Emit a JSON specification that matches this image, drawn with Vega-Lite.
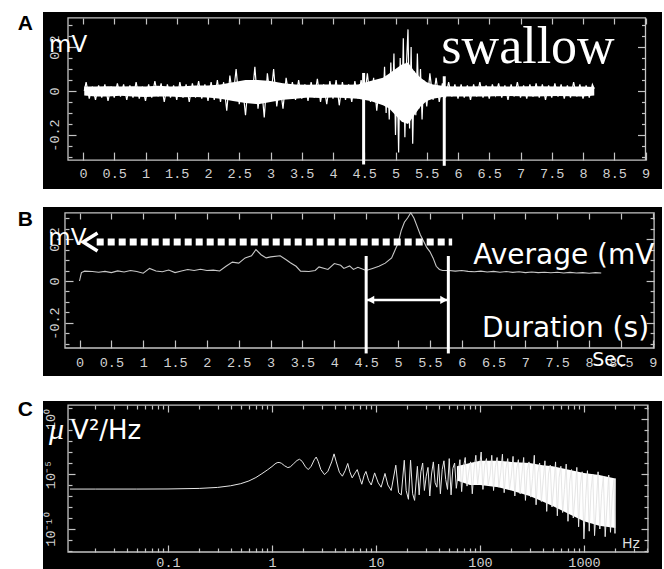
{
  "$schema": "https://vega.github.io/schema/vega-lite/v6.json",
  "background": "white",
  "padding": {"left": 17, "top": 12, "right": 0, "bottom": 0},
  "config": {
    "view": {"stroke": null},
    "axis": {"domain": false, "grid": false, "labelColor": "#d2d2d2", "labelFont": "Liberation Mono", "labelFontSize": 13.5, "tickColor": "#c4c4c4", "tickWidth": 1.2, "labelFlush": false, "labelOverlap": false, "labelBound": false}
  },
  "datasets": {
    "a_sig": [
      {"t":0.02,"v":0.0},{"t":0.05,"v":0.04},{"t":0.1,"v":-0.035},{"t":0.15,"v":0.02},{"t":0.2,"v":-0.04},{"t":0.25,"v":0.025},{"t":0.3,"v":-0.03},{"t":0.35,"v":0.03},{"t":0.4,"v":-0.045},{"t":0.45,"v":0.02},{"t":0.5,"v":-0.03},{"t":0.55,"v":0.035},{"t":0.6,"v":-0.025},{"t":0.65,"v":0.03},{"t":0.7,"v":-0.04},{"t":0.75,"v":0.025},{"t":0.8,"v":-0.03},{"t":0.85,"v":0.04},{"t":0.9,"v":-0.035},{"t":0.95,"v":0.02},{"t":1.0,"v":-0.045},{"t":1.05,"v":0.03},{"t":1.1,"v":-0.03},{"t":1.15,"v":0.045},{"t":1.2,"v":-0.025},{"t":1.25,"v":0.035},{"t":1.3,"v":-0.05},{"t":1.35,"v":0.03},{"t":1.4,"v":-0.03},{"t":1.45,"v":0.025},{"t":1.5,"v":-0.04},{"t":1.55,"v":0.04},{"t":1.6,"v":-0.03},{"t":1.65,"v":0.03},{"t":1.7,"v":-0.05},{"t":1.75,"v":0.035},{"t":1.8,"v":-0.03},{"t":1.85,"v":0.045},{"t":1.9,"v":-0.035},{"t":1.95,"v":0.03},{"t":2.0,"v":-0.045},{"t":2.05,"v":0.04},{"t":2.1,"v":-0.04},{"t":2.15,"v":0.05},
      {"t":2.2,"v":-0.05},{"t":2.25,"v":0.04},{"t":2.3,"v":-0.09},{"t":2.35,"v":0.07},{"t":2.4,"v":-0.03},{"t":2.45,"v":0.1},{"t":2.5,"v":-0.06},{"t":2.55,"v":0.03},{"t":2.6,"v":-0.11},{"t":2.65,"v":0.05},{"t":2.7,"v":-0.05},{"t":2.75,"v":0.11},{"t":2.8,"v":-0.08},{"t":2.85,"v":0.04},{"t":2.9,"v":-0.12},{"t":2.95,"v":0.08},{"t":3.0,"v":-0.04},{"t":3.05,"v":0.1},{"t":3.1,"v":-0.07},{"t":3.15,"v":0.03},{"t":3.2,"v":-0.08},{"t":3.25,"v":0.06},{"t":3.3,"v":-0.03},
      {"t":3.35,"v":0.04},{"t":3.4,"v":-0.04},{"t":3.45,"v":0.05},{"t":3.5,"v":-0.035},{"t":3.55,"v":0.03},{"t":3.6,"v":-0.045},{"t":3.65,"v":0.04},{"t":3.7,"v":-0.03},{"t":3.75,"v":0.055},{"t":3.8,"v":-0.05},{"t":3.85,"v":0.03},{"t":3.9,"v":-0.06},{"t":3.95,"v":0.045},{"t":4.0,"v":-0.035},{"t":4.05,"v":0.05},{"t":4.1,"v":-0.065},{"t":4.15,"v":0.04},{"t":4.2,"v":-0.04},{"t":4.25,"v":0.03},{"t":4.3,"v":-0.05},{"t":4.35,"v":0.045},{"t":4.4,"v":-0.035},
      {"t":4.45,"v":0.05},{"t":4.5,"v":-0.04},{"t":4.55,"v":0.08},{"t":4.6,"v":-0.05},{"t":4.65,"v":0.06},{"t":4.7,"v":-0.09},{"t":4.75,"v":0.05},{"t":4.8,"v":-0.06},{"t":4.825,"v":0.11},{"t":4.85,"v":-0.1},{"t":4.875,"v":0.07},{"t":4.9,"v":-0.13},{"t":4.925,"v":0.13},{"t":4.95,"v":-0.08},{"t":4.975,"v":0.17},{"t":5.0,"v":-0.2},{"t":5.025,"v":0.1},{"t":5.05,"v":-0.28},{"t":5.075,"v":0.15},{"t":5.1,"v":-0.12},{"t":5.125,"v":0.24},{"t":5.15,"v":-0.21},{"t":5.175,"v":0.12},{"t":5.2,"v":0.28},{"t":5.225,"v":-0.17},{"t":5.25,"v":0.2},{"t":5.275,"v":-0.24},{"t":5.3,"v":0.09},{"t":5.325,"v":-0.11},{"t":5.35,"v":0.17},{"t":5.375,"v":-0.08},{"t":5.4,"v":0.1},{"t":5.425,"v":-0.13},{"t":5.45,"v":0.05},{"t":5.5,"v":-0.07},{"t":5.55,"v":0.08},{"t":5.6,"v":-0.04},{"t":5.65,"v":0.06},{"t":5.7,"v":-0.05},
      {"t":5.75,"v":0.035},{"t":5.8,"v":-0.03},{"t":5.85,"v":0.04},{"t":5.9,"v":-0.025},{"t":5.95,"v":0.03},{"t":6.0,"v":-0.035},{"t":6.05,"v":0.03},{"t":6.1,"v":-0.03},{"t":6.15,"v":0.025},{"t":6.2,"v":-0.04},{"t":6.25,"v":0.03},{"t":6.3,"v":-0.025},{"t":6.35,"v":0.04},{"t":6.4,"v":-0.03},{"t":6.45,"v":0.025},{"t":6.5,"v":-0.035},{"t":6.55,"v":0.03},{"t":6.6,"v":-0.02},{"t":6.65,"v":0.035},{"t":6.7,"v":-0.03},{"t":6.75,"v":0.025},{"t":6.8,"v":-0.04},{"t":6.85,"v":0.03},{"t":6.9,"v":-0.025},{"t":6.95,"v":0.04},{"t":7.0,"v":-0.03},{"t":7.05,"v":0.025},{"t":7.1,"v":-0.035},{"t":7.15,"v":0.03},{"t":7.2,"v":-0.025},{"t":7.25,"v":0.035},{"t":7.3,"v":-0.03},{"t":7.35,"v":0.03},{"t":7.4,"v":-0.04},{"t":7.45,"v":0.025},{"t":7.5,"v":-0.03},{"t":7.55,"v":0.035},{"t":7.6,"v":-0.025},{"t":7.65,"v":0.03},{"t":7.7,"v":-0.035},{"t":7.75,"v":0.025},{"t":7.8,"v":-0.03},{"t":7.85,"v":0.04},{"t":7.9,"v":-0.025},{"t":7.95,"v":0.03},{"t":8.0,"v":-0.035},{"t":8.05,"v":0.025},{"t":8.1,"v":-0.03},{"t":8.15,"v":0.03},{"t":8.18,"v":0.01}
    ],
    "a_core": [
      {"t":0.02,"lo":-0.02,"hi":0.02},{"t":0.2,"lo":-0.025,"hi":0.02},{"t":0.4,"lo":-0.025,"hi":0.022},{"t":0.6,"lo":-0.022,"hi":0.02},{"t":0.8,"lo":-0.025,"hi":0.022},{"t":1.0,"lo":-0.027,"hi":0.02},{"t":1.2,"lo":-0.025,"hi":0.024},{"t":1.4,"lo":-0.025,"hi":0.02},{"t":1.6,"lo":-0.028,"hi":0.022},{"t":1.8,"lo":-0.027,"hi":0.025},{"t":2.0,"lo":-0.03,"hi":0.025},{"t":2.2,"lo":-0.035,"hi":0.03},{"t":2.4,"lo":-0.045,"hi":0.04},{"t":2.6,"lo":-0.055,"hi":0.05},{"t":2.8,"lo":-0.06,"hi":0.05},{"t":3.0,"lo":-0.05,"hi":0.045},{"t":3.2,"lo":-0.04,"hi":0.035},{"t":3.4,"lo":-0.035,"hi":0.03},{"t":3.6,"lo":-0.03,"hi":0.028},{"t":3.8,"lo":-0.032,"hi":0.03},{"t":4.0,"lo":-0.03,"hi":0.03},{"t":4.2,"lo":-0.032,"hi":0.028},{"t":4.4,"lo":-0.035,"hi":0.03},{"t":4.6,"lo":-0.045,"hi":0.045},{"t":4.8,"lo":-0.065,"hi":0.06},{"t":4.9,"lo":-0.08,"hi":0.08},{"t":5.0,"lo":-0.11,"hi":0.1},{"t":5.1,"lo":-0.14,"hi":0.12},{"t":5.2,"lo":-0.15,"hi":0.13},{"t":5.3,"lo":-0.11,"hi":0.09},{"t":5.4,"lo":-0.07,"hi":0.06},{"t":5.5,"lo":-0.045,"hi":0.04},{"t":5.6,"lo":-0.035,"hi":0.03},{"t":5.8,"lo":-0.025,"hi":0.022},{"t":6.0,"lo":-0.025,"hi":0.02},{"t":6.4,"lo":-0.025,"hi":0.022},{"t":6.8,"lo":-0.023,"hi":0.02},{"t":7.2,"lo":-0.025,"hi":0.022},{"t":7.6,"lo":-0.023,"hi":0.02},{"t":8.0,"lo":-0.025,"hi":0.02},{"t":8.18,"lo":-0.02,"hi":0.018}
    ],
    "b_sig": [
      {"t":0.0,"v":0.0},{"t":0.03,"v":0.04},{"t":0.08,"v":0.047},{"t":0.2,"v":0.045},{"t":0.3,"v":0.042},{"t":0.4,"v":0.046},{"t":0.5,"v":0.04},{"t":0.6,"v":0.048},{"t":0.7,"v":0.043},{"t":0.8,"v":0.05},{"t":0.9,"v":0.045},{"t":1.0,"v":0.037},{"t":1.1,"v":0.06},{"t":1.2,"v":0.048},{"t":1.3,"v":0.044},{"t":1.4,"v":0.052},{"t":1.5,"v":0.04},{"t":1.6,"v":0.048},{"t":1.7,"v":0.055},{"t":1.8,"v":0.05},{"t":1.9,"v":0.056},{"t":2.0,"v":0.05},{"t":2.1,"v":0.052},{"t":2.2,"v":0.048},{"t":2.3,"v":0.07},{"t":2.4,"v":0.09},{"t":2.5,"v":0.085},{"t":2.6,"v":0.11},{"t":2.7,"v":0.12},{"t":2.77,"v":0.15},{"t":2.85,"v":0.125},{"t":2.93,"v":0.11},{"t":3.0,"v":0.115},{"t":3.15,"v":0.12},{"t":3.25,"v":0.1},{"t":3.31,"v":0.087},{"t":3.4,"v":0.07},{"t":3.47,"v":0.047},{"t":3.6,"v":0.045},{"t":3.7,"v":0.05},{"t":3.76,"v":0.067},{"t":3.9,"v":0.055},{"t":4.0,"v":0.083},{"t":4.1,"v":0.075},{"t":4.15,"v":0.06},{"t":4.24,"v":0.072},{"t":4.3,"v":0.055},{"t":4.37,"v":0.065},{"t":4.5,"v":0.05},{"t":4.6,"v":0.06},{"t":4.7,"v":0.07},{"t":4.8,"v":0.085},{"t":4.9,"v":0.11},{"t":5.0,"v":0.18},{"t":5.05,"v":0.24},{"t":5.1,"v":0.28},{"t":5.15,"v":0.3},{"t":5.2,"v":0.325},{"t":5.25,"v":0.3},{"t":5.3,"v":0.26},{"t":5.35,"v":0.22},{"t":5.4,"v":0.19},{"t":5.45,"v":0.16},{"t":5.5,"v":0.14},{"t":5.55,"v":0.11},{"t":5.6,"v":0.07},{"t":5.65,"v":0.055},{"t":5.7,"v":0.05},{"t":5.8,"v":0.05},{"t":5.9,"v":0.047},{"t":6.0,"v":0.05},{"t":6.1,"v":0.046},{"t":6.2,"v":0.044},{"t":6.3,"v":0.047},{"t":6.4,"v":0.043},{"t":6.5,"v":0.046},{"t":6.6,"v":0.042},{"t":6.7,"v":0.045},{"t":6.8,"v":0.041},{"t":6.9,"v":0.044},{"t":7.0,"v":0.04},{"t":7.1,"v":0.043},{"t":7.2,"v":0.04},{"t":7.3,"v":0.042},{"t":7.4,"v":0.039},{"t":7.5,"v":0.042},{"t":7.6,"v":0.038},{"t":7.7,"v":0.041},{"t":7.8,"v":0.038},{"t":7.9,"v":0.04},{"t":8.0,"v":0.037},{"t":8.1,"v":0.04},{"t":8.19,"v":0.038}
    ],
    "c_psd": [
      {"f":0.0114,"lg":-6.37},{"f":0.02,"lg":-6.37},{"f":0.05,"lg":-6.37},{"f":0.1,"lg":-6.36},{"f":0.2,"lg":-6.31},{"f":0.3,"lg":-6.22},{"f":0.4,"lg":-6.07},{"f":0.5,"lg":-5.88},{"f":0.6,"lg":-5.63},{"f":0.7,"lg":-5.32},{"f":0.8,"lg":-4.97},{"f":0.9,"lg":-4.64},{"f":1.0,"lg":-4.32},{"f":1.07,"lg":-4.08},{"f":1.12,"lg":-3.97},{"f":1.17,"lg":-3.95},{"f":1.23,"lg":-4.02},{"f":1.32,"lg":-4.25},{"f":1.42,"lg":-4.42},{"f":1.5,"lg":-4.35},{"f":1.62,"lg":-4.05},{"f":1.74,"lg":-3.77},{"f":1.84,"lg":-3.66},{"f":1.95,"lg":-3.85},{"f":2.1,"lg":-4.35},{"f":2.23,"lg":-4.6},{"f":2.38,"lg":-4.3},{"f":2.55,"lg":-3.7},{"f":2.66,"lg":-3.46},{"f":2.78,"lg":-3.85},{"f":2.95,"lg":-4.6},{"f":3.2,"lg":-5.06},{"f":3.45,"lg":-4.75},{"f":3.75,"lg":-3.9},{"f":3.95,"lg":-3.17},{"f":4.15,"lg":-3.9},{"f":4.45,"lg":-4.85},{"f":4.75,"lg":-5.2},{"f":5.05,"lg":-4.7},{"f":5.35,"lg":-4.04},{"f":5.6,"lg":-4.8},{"f":5.9,"lg":-5.35},{"f":6.3,"lg":-4.9},{"f":6.6,"lg":-4.6},{"f":6.95,"lg":-5.3},{"f":7.3,"lg":-5.93},{"f":7.7,"lg":-5.1},{"f":8.0,"lg":-4.77},{"f":8.5,"lg":-5.6},{"f":9.0,"lg":-6.0},{"f":9.7,"lg":-4.9},{"f":10.5,"lg":-5.8},{"f":11.2,"lg":-6.2},{"f":12.2,"lg":-4.95},{"f":13,"lg":-6.0},{"f":14,"lg":-6.5},{"f":15.5,"lg":-4.2},{"f":16.5,"lg":-6.7},{"f":17.5,"lg":-6.9},{"f":18.7,"lg":-3.75},{"f":19.5,"lg":-6.5},{"f":20.5,"lg":-7.3},{"f":21.5,"lg":-3.75},{"f":22.5,"lg":-6.8},{"f":23.5,"lg":-7.4},
      {"f":25,"lg":-4.3},{"f":26,"lg":-6.9},{"f":27,"lg":-4.8},{"f":28.1,"lg":-4.0},{"f":29.2,"lg":-6.5},{"f":30.4,"lg":-5.2},{"f":31.6,"lg":-4.4},{"f":32.9,"lg":-7.0},{"f":34.2,"lg":-5.0},{"f":35.6,"lg":-3.9},{"f":37,"lg":-5.8},{"f":38.5,"lg":-6.2},{"f":40,"lg":-4.1},{"f":41.6,"lg":-6.8},{"f":43.3,"lg":-4.6},{"f":45,"lg":-3.8},{"f":46.8,"lg":-5.5},{"f":48.7,"lg":-6.4},{"f":50.6,"lg":-3.6},{"f":52.7,"lg":-6.9},{"f":54.8,"lg":-4.5},{"f":57,"lg":-4.0},{"f":59.2,"lg":-6.3},{"f":61.6,"lg":-5.0},{"f":64.1,"lg":-3.7},{"f":66.6,"lg":-6.6},{"f":69.3,"lg":-4.4},{"f":72.1,"lg":-3.5},{"f":75,"lg":-6.1},{"f":78,"lg":-4.8},{"f":81.1,"lg":-3.9},{"f":84.3,"lg":-6.8},{"f":87.7,"lg":-4.6},{"f":91.2,"lg":-3.3},{"f":94.9,"lg":-5.9},{"f":98.7,"lg":-4.5},{"f":102.6,"lg":-3.0},{"f":106.7,"lg":-6.4},{"f":111,"lg":-4.2},{"f":115.4,"lg":-3.6},{"f":120,"lg":-6.0},{"f":124.8,"lg":-5.1},{"f":129.8,"lg":-3.3},{"f":135,"lg":-6.5},{"f":140.4,"lg":-4.4},{"f":146,"lg":-3.5},{"f":151.9,"lg":-6.2},{"f":158,"lg":-4.9},{"f":164.3,"lg":-3.2},{"f":170.8,"lg":-6.7},{"f":177.7,"lg":-4.5},{"f":184.8,"lg":-3.6},{"f":192.2,"lg":-6.4},{"f":199.9,"lg":-5.2},{"f":207.9,"lg":-3.4},{"f":216.2,"lg":-7.0},{"f":224.8,"lg":-4.6},{"f":233.8,"lg":-3.7},{"f":243.2,"lg":-6.8},{"f":252.9,"lg":-5.0},{"f":263,"lg":-3.5},{"f":273.5,"lg":-7.4},{"f":284.5,"lg":-4.7},{"f":295.9,"lg":-3.9},{"f":307.7,"lg":-7.1},{"f":320,"lg":-5.4},{"f":332.8,"lg":-3.3},{"f":346.1,"lg":-7.8},{"f":360,"lg":-4.9},{"f":374.4,"lg":-4.0},{"f":389.3,"lg":-7.5},{"f":404.9,"lg":-5.6},{"f":421.1,"lg":-3.8},{"f":437.9,"lg":-8.4},{"f":455.5,"lg":-5.0},{"f":473.7,"lg":-4.2},{"f":492.6,"lg":-8.0},{"f":512.3,"lg":-6.1},{"f":532.8,"lg":-3.9},{"f":554.1,"lg":-8.8},{"f":576.3,"lg":-5.3},{"f":599.4,"lg":-4.3},{"f":623.3,"lg":-8.5},{"f":648.3,"lg":-6.4},{"f":674.2,"lg":-4.1},{"f":701.2,"lg":-9.3},{"f":729.2,"lg":-5.7},{"f":758.4,"lg":-4.6},{"f":788.7,"lg":-9.0},{"f":820.3,"lg":-6.9},{"f":853.1,"lg":-4.4},{"f":887.2,"lg":-9.8},{"f":922.7,"lg":-6.0},{"f":959.6,"lg":-4.8},{"f":998,"lg":-10.9},{"f":1038,"lg":-7.2},{"f":1079,"lg":-4.7},{"f":1123,"lg":-10.2},{"f":1167,"lg":-6.5},{"f":1214,"lg":-5.0},{"f":1263,"lg":-10.6},{"f":1313,"lg":-7.8},{"f":1366,"lg":-4.8},{"f":1420,"lg":-10.0},{"f":1477,"lg":-6.8},{"f":1536,"lg":-5.2},{"f":1598,"lg":-10.7},{"f":1662,"lg":-8.0},{"f":1728,"lg":-5.1},{"f":1797,"lg":-10.3},{"f":1869,"lg":-7.0},{"f":1944,"lg":-5.5},{"f":1985,"lg":-10.4},{"f":2000,"lg":-5.4}
    ],
    "c_core": [
      {"f":60,"lo":-5.6,"hi":-4.3},{"f":80,"lo":-6.0,"hi":-4.0},{"f":100,"lo":-6.0,"hi":-3.8},{"f":150,"lo":-6.2,"hi":-3.8},{"f":200,"lo":-6.5,"hi":-3.9},{"f":300,"lo":-7.0,"hi":-4.0},{"f":400,"lo":-7.5,"hi":-4.2},{"f":500,"lo":-7.9,"hi":-4.3},{"f":700,"lo":-8.6,"hi":-4.6},{"f":1000,"lo":-9.3,"hi":-4.9},{"f":1400,"lo":-9.7,"hi":-5.1},{"f":2000,"lo":-9.9,"hi":-5.4}
    ]
  },
  "spacing": 23,
  "vconcat": [
    {
      "spacing": 18,
      "vconcat": [
        {
          "width": 619,
          "height": 177,
          "view": {"fill": "black", "stroke": null},
          "resolve": {"axis": {"x": "independent", "y": "independent"}},
          "encoding": {
            "x": {"field": "t", "type": "quantitative", "scale": {"domain": [-0.64, 9.264], "nice": false, "zero": false}, "axis": null},
            "y": {"field": "v", "type": "quantitative", "scale": {"domain": [-0.4455, 0.3591], "nice": false, "zero": false}, "axis": null}
          },
          "layer": [
            {
              "data": {"values": [{"t": -0.24, "t2": 9.0, "v": -0.314, "v2": 0.332}]},
              "mark": {"type": "rect", "fill": "transparent", "stroke": "#c4c4c4", "strokeWidth": 1.3},
              "encoding": {
                "x": {"field": "t", "type": "quantitative", "scale": {"domain": [-0.64, 9.264], "nice": false, "zero": false},
                  "axis": {"orient": "bottom", "offset": -28.9, "values": [0,0.5,1,1.5,2,2.5,3,3.5,4,4.5,5,5.5,6,6.5,7,7.5,8,8.5,9], "tickSize": -8, "labelPadding": 14, "format": "~g", "title": null}},
                "x2": {"field": "t2"},
                "y": {"field": "v", "type": "quantitative", "scale": {"domain": [-0.4455, 0.3591], "nice": false, "zero": false},
                  "axis": {"orient": "left", "offset": -25, "values": [-0.3,-0.25,-0.2,-0.15,-0.1,-0.05,0,0.05,0.1,0.15,0.2,0.25,0.3],
                    "tickSize": {"condition": {"test": "abs(datum.value*5-round(datum.value*5))<0.01", "value": -8}, "value": -4},
                    "labelAngle": 270, "labelAlign": "center", "labelBaseline": "alphabetic", "labelPadding": 18,
                    "labelExpr": "abs(datum.value*5-round(datum.value*5))<0.01 ? (datum.value < -0.01 ? '-' + format(-datum.value, '.1f') : (datum.value > 0.01 ? format(datum.value, '.1f') : '0')) : ''",
                    "title": null}},
                "y2": {"field": "v2"}
              }
            },
            {
              "data": {"name": "a_core"},
              "mark": {"type": "area", "color": "white", "opacity": 1},
              "encoding": {
                "x": {"field": "t", "type": "quantitative", "scale": {"domain": [-0.64, 9.264], "nice": false, "zero": false},
                  "axis": {"orient": "top", "offset": -6, "values": [0,0.5,1,1.5,2,2.5,3,3.5,4,4.5,5,5.5,6,6.5,7,7.5,8,8.5,9], "tickSize": -6, "labels": false, "title": null}},
                "y": {"field": "lo", "type": "quantitative", "scale": {"domain": [-0.4455, 0.3591], "nice": false, "zero": false},
                  "axis": {"orient": "right", "offset": -16.5, "values": [-0.3,-0.25,-0.2,-0.15,-0.1,-0.05,0,0.05,0.1,0.15,0.2,0.25,0.3],
                    "tickSize": {"condition": {"test": "abs(datum.value*5-round(datum.value*5))<0.01", "value": -8}, "value": -4},
                    "labels": false, "title": null}},
                "y2": {"field": "hi"}
              }
            },
            {
              "data": {"name": "a_sig"},
              "mark": {"type": "line", "color": "white", "strokeWidth": 1.2}
            },
            {
              "data": {"values": [{"t": 4.49, "v": 0.082, "v2": -0.334}, {"t": 5.78, "v": 0.067, "v2": -0.34}]},
              "mark": {"type": "rule", "color": "white", "strokeWidth": 3},
              "encoding": {"y2": {"field": "v2"}}
            },
            {
              "data": {"values": [{"t": 7.12, "v": 0.127, "label": "swallow"}]},
              "mark": {"type": "text", "align": "center", "baseline": "alphabetic", "font": "Liberation Serif", "fontSize": 52, "color": "white"},
              "encoding": {"text": {"field": "label"}}
            },
            {
              "data": {"values": [{"t": -0.544, "v": 0.177, "label": "mV"}]},
              "mark": {"type": "text", "align": "left", "baseline": "alphabetic", "font": "DejaVu Sans", "fontSize": 23, "color": "white"},
              "encoding": {"text": {"field": "label"}}
            },
            {
              "data": {"values": [{"t": -0.8, "v": 0.277, "label": "A"}]},
              "mark": {"type": "text", "align": "right", "baseline": "alphabetic", "font": "Liberation Sans", "fontWeight": "bold", "fontSize": 21, "color": "black"},
              "encoding": {"text": {"field": "label"}}
            }
          ]
        },
        {
          "width": 619,
          "height": 169,
          "view": {"fill": "black", "stroke": null},
          "resolve": {"axis": {"x": "independent", "y": "independent"}},
          "encoding": {
            "x": {"field": "t", "type": "quantitative", "scale": {"domain": [-0.573, 9.144], "nice": false, "zero": false}, "axis": null},
            "y": {"field": "v", "type": "quantitative", "scale": {"domain": [-0.4524, 0.3524], "nice": false, "zero": false}, "axis": null}
          },
          "layer": [
            {
              "data": {"values": [{"t": -0.228, "t2": 9.02, "v": -0.319, "v2": 0.324}]},
              "mark": {"type": "rect", "fill": "transparent", "stroke": "#c4c4c4", "strokeWidth": 1.3},
              "encoding": {
                "x": {"field": "t", "type": "quantitative", "scale": {"domain": [-0.573, 9.144], "nice": false, "zero": false},
                  "axis": {"orient": "bottom", "offset": -28, "values": [0,0.5,1,1.5,2,2.5,3,3.5,4,4.5,5,5.5,6,6.5,7,7.5,8,8.5,9], "tickSize": -8, "labelPadding": 15, "format": "~g", "title": null}},
                "x2": {"field": "t2"},
                "y": {"field": "v", "type": "quantitative", "scale": {"domain": [-0.4524, 0.3524], "nice": false, "zero": false},
                  "axis": {"orient": "left", "offset": -22, "values": [-0.3,-0.25,-0.2,-0.15,-0.1,-0.05,0,0.05,0.1,0.15,0.2,0.25,0.3],
                    "tickSize": {"condition": {"test": "abs(datum.value*5-round(datum.value*5))<0.01", "value": -8}, "value": -4},
                    "labelAngle": 270, "labelAlign": "center", "labelBaseline": "alphabetic", "labelPadding": 15,
                    "labelExpr": "abs(datum.value*5-round(datum.value*5))<0.01 ? (datum.value < -0.01 ? '-' + format(-datum.value, '.1f') : (datum.value > 0.01 ? format(datum.value, '.1f') : '0')) : ''",
                    "title": null}},
                "y2": {"field": "v2"}
              }
            },
            {
              "data": {"name": "b_sig"},
              "mark": {"type": "line", "color": "#c8c8c8", "strokeWidth": 1.1},
              "encoding": {
                "x": {"field": "t", "type": "quantitative", "scale": {"domain": [-0.573, 9.144], "nice": false, "zero": false},
                  "axis": {"orient": "top", "offset": -6, "values": [0,0.5,1,1.5,2,2.5,3,3.5,4,4.5,5,5.5,6,6.5,7,7.5,8,8.5,9], "tickSize": -6, "labels": false, "title": null}},
                "y": {"field": "v", "type": "quantitative", "scale": {"domain": [-0.4524, 0.3524], "nice": false, "zero": false},
                  "axis": {"orient": "right", "offset": -7.9, "values": [-0.3,-0.25,-0.2,-0.15,-0.1,-0.05,0,0.05,0.1,0.15,0.2,0.25,0.3],
                    "tickSize": {"condition": {"test": "abs(datum.value*5-round(datum.value*5))<0.01", "value": -8}, "value": -4},
                    "labels": false, "title": null}}
              }
            },
            {
              "data": {"values": [{"t": 4.5, "v": 0.119, "v2": -0.345}, {"t": 5.79, "v": 0.119, "v2": -0.345}]},
              "mark": {"type": "rule", "color": "white", "strokeWidth": 3},
              "encoding": {"y2": {"field": "v2"}}
            },
            {
              "data": {"values": [{"t": 4.5, "t2": 5.79, "v": -0.09}]},
              "mark": {"type": "rule", "color": "white", "strokeWidth": 2.5},
              "encoding": {"x2": {"field": "t2"}}
            },
            {
              "data": {"values": [{"t": 4.57, "v": -0.09, "s": "l"}, {"t": 5.72, "v": -0.09, "s": "r"}]},
              "mark": {"type": "point", "filled": true, "color": "white", "size": 70, "opacity": 1},
              "encoding": {"shape": {"field": "s", "type": "nominal", "scale": {"domain": ["l", "r"], "range": ["triangle-left", "triangle-right"]}, "legend": null}}
            },
            {
              "data": {"values": [{"t": 0.27, "t2": 5.85, "v": 0.186}]},
              "mark": {"type": "rule", "color": "white", "strokeWidth": 7, "strokeDash": [7, 4], "strokeCap": "butt"},
              "encoding": {"x2": {"field": "t2"}}
            },
            {
              "data": {"values": [{"t": 0.17, "v": 0.186}]},
              "mark": {"type": "point", "shape": "M0.8,-1L-0.8,0L0.8,1", "filled": false, "color": "white", "strokeWidth": 3.5, "size": 324, "opacity": 1}
            },
            {
              "data": {"values": [{"t": -0.49, "v": 0.171, "label": "mV"}]},
              "mark": {"type": "text", "align": "left", "baseline": "alphabetic", "font": "DejaVu Sans", "fontSize": 23, "color": "white"},
              "encoding": {"text": {"field": "label"}}
            },
            {
              "data": {"values": [{"t": 6.18, "v": 0.079, "label": "Average (mV"}, {"t": 6.32, "v": -0.267, "label": "Duration (s)"}]},
              "mark": {"type": "text", "align": "left", "baseline": "alphabetic", "font": "DejaVu Sans", "fontSize": 28, "color": "white"},
              "encoding": {"text": {"field": "label"}}
            },
            {
              "data": {"values": [{"t": 8.05, "v": -0.405, "label": "Sec"}]},
              "mark": {"type": "text", "align": "left", "baseline": "alphabetic", "font": "DejaVu Sans", "fontSize": 19, "color": "white"},
              "encoding": {"text": {"field": "label"}}
            },
            {
              "data": {"values": [{"t": -0.73, "v": 0.262, "label": "B"}]},
              "mark": {"type": "text", "align": "right", "baseline": "alphabetic", "font": "Liberation Sans", "fontWeight": "bold", "fontSize": 21, "color": "black"},
              "encoding": {"text": {"field": "label"}}
            }
          ]
        }
      ]
    },
    {
      "width": 619,
      "height": 170,
      "view": {"fill": "black", "stroke": null},
      "resolve": {"axis": {"x": "independent", "y": "independent"}},
      "encoding": {
        "x": {"field": "f", "type": "quantitative", "scale": {"type": "log", "domain": [0.006281, 5623], "nice": false}, "axis": null},
        "y": {"field": "lg", "type": "quantitative", "scale": {"domain": [-13.818, 1.636], "nice": false, "zero": false}, "axis": null}
      },
      "layer": [
        {
          "data": {"values": [{"f": 0.01093, "f2": 4121, "lg": -12.09, "lg2": 1.27}]},
          "mark": {"type": "rect", "fill": "transparent", "stroke": "#c4c4c4", "strokeWidth": 1.3},
          "encoding": {
            "x": {"field": "f", "type": "quantitative", "scale": {"type": "log", "domain": [0.006281, 5623], "nice": false},
              "axis": {"orient": "bottom", "offset": -19,
                "values": [0.02,0.03,0.04,0.05,0.06,0.07,0.08,0.09,0.1,0.2,0.3,0.4,0.5,0.6,0.7,0.8,0.9,1,2,3,4,5,6,7,8,9,10,20,30,40,50,60,70,80,90,100,200,300,400,500,600,700,800,900,1000,2000,3000,4000],
                "tickSize": {"condition": {"test": "abs(log(datum.value)/LN10-round(log(datum.value)/LN10))<0.01", "value": -7}, "value": -4},
                "labelPadding": 10,
                "labelExpr": "datum.value==0.1 ? '0.1' : datum.value==1 ? '1' : datum.value==10 ? '10' : datum.value==100 ? '100' : datum.value==1000 ? '1000' : ''",
                "title": null}},
            "x2": {"field": "f2"},
            "y": {"field": "lg", "type": "quantitative", "scale": {"domain": [-13.818, 1.636], "nice": false, "zero": false},
              "axis": {"orient": "left", "offset": -25, "values": [1,0,-1,-2,-3,-4,-5,-6,-7,-8,-9,-10,-11,-12],
                "tickSize": {"condition": {"test": "datum.value % 5 == 0", "value": -7}, "value": -4},
                "labelAngle": 270, "labelAlign": "center", "labelBaseline": "alphabetic", "labelPadding": 21,
                "labelExpr": "datum.value==0 ? '10⁰' : datum.value==-5 ? '10⁻⁵' : datum.value==-10 ? '10⁻¹⁰' : ''",
                "title": null}},
            "y2": {"field": "lg2"}
          }
        },
        {
          "data": {"name": "c_core"},
          "mark": {"type": "area", "color": "white", "opacity": 1},
          "encoding": {
            "x": {"field": "f", "type": "quantitative", "scale": {"type": "log", "domain": [0.006281, 5623], "nice": false},
              "axis": {"orient": "top", "offset": -4,
                "values": [0.02,0.03,0.04,0.05,0.06,0.07,0.08,0.09,0.1,0.2,0.3,0.4,0.5,0.6,0.7,0.8,0.9,1,2,3,4,5,6,7,8,9,10,20,30,40,50,60,70,80,90,100,200,300,400,500,600,700,800,900,1000,2000,3000,4000],
                "tickSize": {"condition": {"test": "abs(log(datum.value)/LN10-round(log(datum.value)/LN10))<0.01", "value": -7}, "value": -4},
                "labels": false, "title": null}},
            "y": {"field": "lo", "type": "quantitative", "scale": {"domain": [-13.818, 1.636], "nice": false, "zero": false},
              "axis": {"orient": "right", "offset": -14, "values": [1,0,-1,-2,-3,-4,-5,-6,-7,-8,-9,-10,-11,-12],
                "tickSize": {"condition": {"test": "datum.value % 5 == 0", "value": -7}, "value": -4},
                "labels": false, "title": null}},
            "y2": {"field": "hi"}
          }
        },
        {
          "data": {"name": "c_psd"},
          "mark": {"type": "line", "color": "#e6e6e6", "strokeWidth": 1}
        },
        {
          "data": {"values": [{"f": 0.00718, "lg": -1.82, "label": "μ"}]},
          "mark": {"type": "text", "align": "left", "baseline": "alphabetic", "font": "Liberation Serif", "fontStyle": "italic", "fontSize": 30, "color": "white"},
          "encoding": {"text": {"field": "label"}}
        },
        {
          "data": {"values": [{"f": 0.0117, "lg": -1.82, "label": "V²/Hz"}]},
          "mark": {"type": "text", "align": "left", "baseline": "alphabetic", "font": "DejaVu Sans", "fontSize": 26, "color": "white"},
          "encoding": {"text": {"field": "label"}}
        },
        {
          "data": {"values": [{"f": 2318, "lg": -11.7, "label": "Hz"}]},
          "mark": {"type": "text", "align": "left", "baseline": "alphabetic", "font": "DejaVu Sans", "fontSize": 14, "color": "#dddddd"},
          "encoding": {"text": {"field": "label"}}
        },
        {
          "data": {"values": [{"f": 0.00503, "lg": 0.27, "label": "C"}]},
          "mark": {"type": "text", "align": "right", "baseline": "alphabetic", "font": "Liberation Sans", "fontWeight": "bold", "fontSize": 21, "color": "black"},
          "encoding": {"text": {"field": "label"}}
        }
      ]
    }
  ]
}
